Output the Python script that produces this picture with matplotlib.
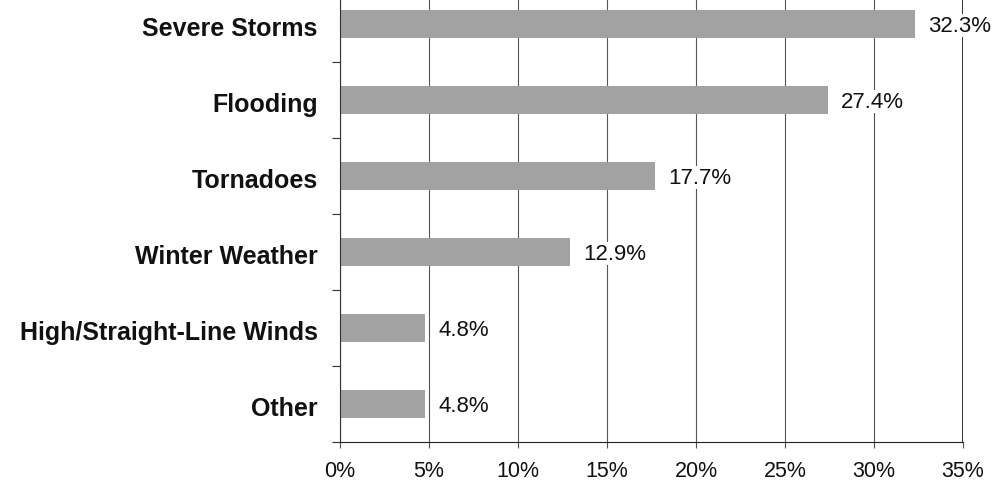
import numpy as np
import matplotlib.pyplot as plt

# data
categories = ['Severe Storms', 'Flooding', 'Tornadoes', 'Winter Weather',
              'High/Straight-Line Winds', 'Other']
shares = [32.3, 27.4, 17.7, 12.9, 4.8, 4.8]
xticks = [0, 5, 10, 15, 20, 25, 30, 35]
xtick_labels = ['0%', '5%', '10%', '15%', '20%', '25%', '30%', '35%']

plt.rcParams['font.family'] = ['Liberation Sans', 'DejaVu Sans']

fig = plt.figure(figsize=(10.01, 4.85), dpi=100)
ax = fig.add_axes([340 / 1001, 42 / 485, 623 / 1001, 456 / 485])

y = np.arange(len(categories))
ax.barh(y, shares, height=0.38, color='#a2a2a2', zorder=2)

for yi, v in zip(y, shares):
    ax.text(v + 0.75, yi + 0.02, f'{v}%', va='center', ha='left', fontsize=16,
            color='#111111', zorder=3,
            bbox=dict(facecolor='white', edgecolor='none', pad=1))

ax.set_xlim(0, 35)
ax.set_ylim(len(categories) - 0.5, -0.5)

ax.set_xticks(xticks)
ax.set_xticklabels(xtick_labels, fontsize=15.5, color='#111111')
ax.tick_params(axis='x', length=4, width=0.8, color='#555555', pad=9)

ax.set_yticks(y + 0.02)
ax.set_yticklabels(categories, fontsize=18, fontweight='bold', color='#111111')
ax.tick_params(axis='y', which='major', length=0, pad=16)
ax.set_yticks(np.arange(-0.5, len(categories), 1), minor=True)
ax.tick_params(axis='y', which='minor', length=6, width=0.8, color='#333333')

ax.grid(axis='x', color='#555555', linewidth=0.8, zorder=1)
ax.set_axisbelow(True)

for s in ['top', 'right']:
    ax.spines[s].set_visible(False)
ax.spines['left'].set_color('#333333')
ax.spines['bottom'].set_color('#222222')
ax.axvline(35, color='#111111', linewidth=1.2, zorder=1)

fig.savefig('out.png', dpi=100)
